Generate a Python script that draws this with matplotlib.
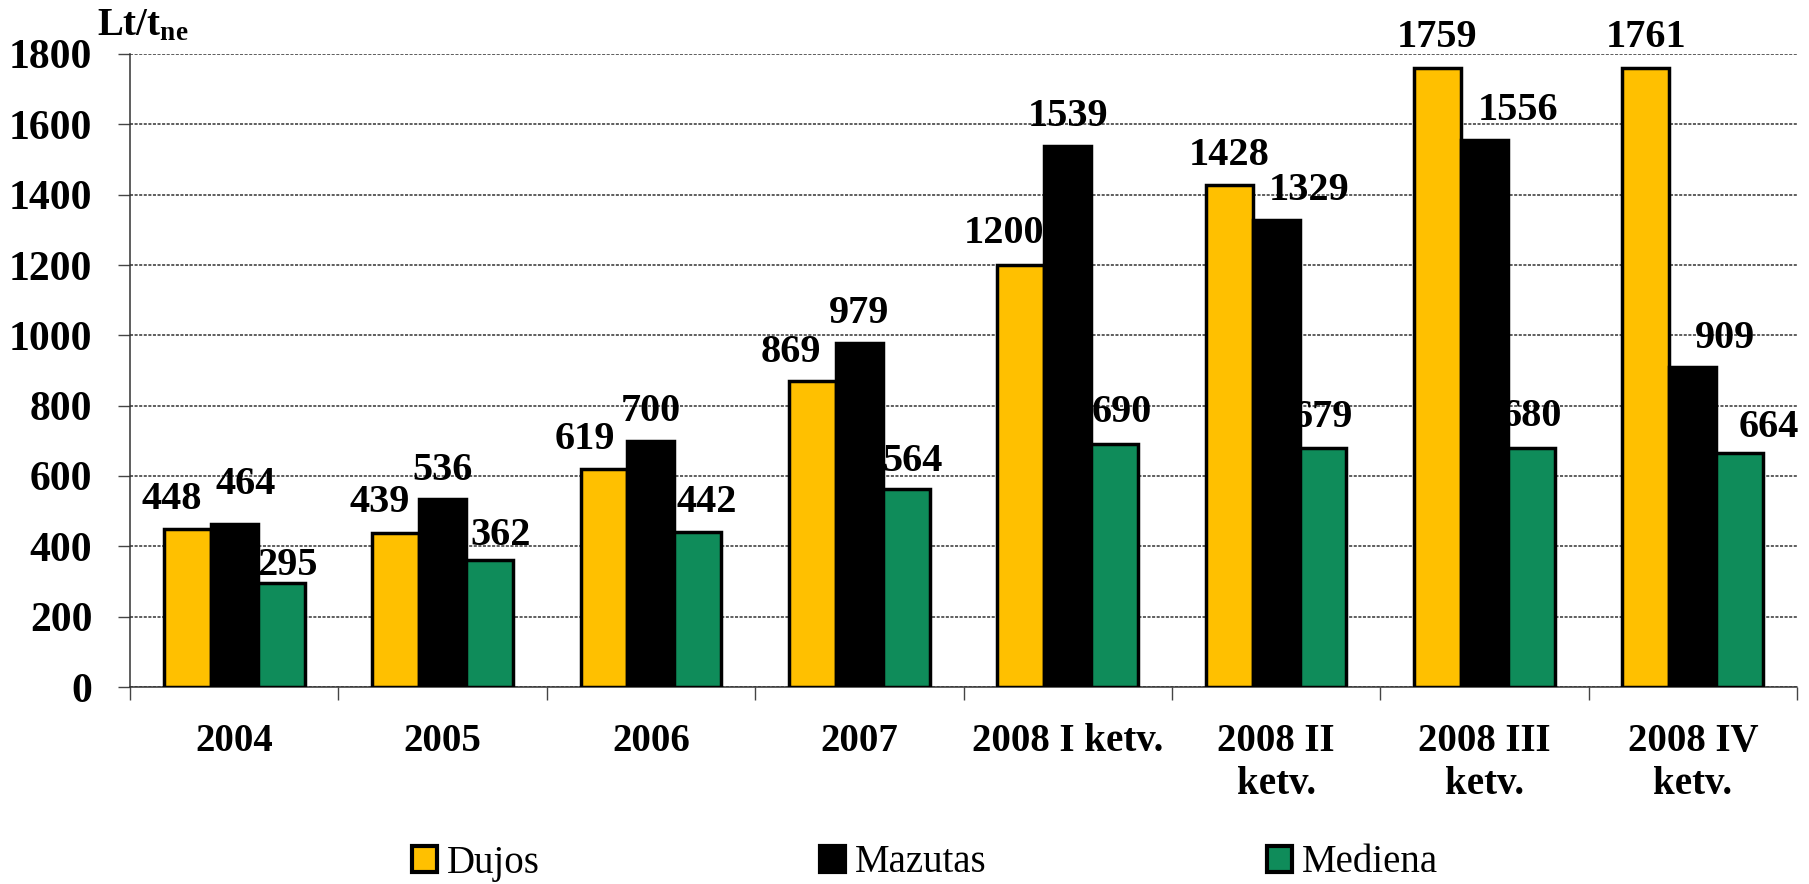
import numpy as np
import matplotlib
matplotlib.use("Agg")
import matplotlib.pyplot as plt

plt.rcParams['font.family'] = ['Liberation Serif', 'DejaVu Serif']
plt.rcParams['mathtext.fontset'] = 'custom'
plt.rcParams['mathtext.rm'] = 'Liberation Serif:bold'
plt.rcParams['mathtext.it'] = 'Liberation Serif:bold'
plt.rcParams['mathtext.bf'] = 'Liberation Serif:bold'

# duomenys
kategorijos = ["2004", "2005", "2006", "2007", "2008 I ketv.",
               "2008 II\nketv.", "2008 III\nketv.", "2008 IV\nketv."]
dujos = [448, 439, 619, 869, 1200, 1428, 1759, 1761]
mazutas = [464, 536, 700, 979, 1539, 1329, 1556, 909]
mediena = [295, 362, 442, 564, 690, 679, 680, 664]
serijos = ["Dujos", "Mazutas", "Mediena"]
y_ticks = [0, 200, 400, 600, 800, 1000, 1200, 1400, 1600, 1800]

# etikečių poslinkiai (px) - kaip originale
dx_px = [[-16, -16, -19, -22, -17, 0, 0, 0],
         [11, 0, 0, 0, 0, 33, 34, 32],
         [6, 11, 9, 6, 7, 0, 0, 29]]
dy_px = [[20, 21, 20, 19, 22, 20, 21, 21],
         [30, 19, 20, 20, 20, 20, 20, 19],
         [8, 15, 20, 18, 22, 21, 22, 16]]

spalvos = ['#FFC000', '#000000', '#0F8C5A']
pt = 0.72  # px -> pt prie 100 dpi

fig = plt.figure(figsize=(18.09, 8.84), dpi=100)
ax = fig.add_axes([130/1809, 1-687/884, (1797-130)/1809, (687-54)/884])

x = np.arange(len(kategorijos))
w = 0.225
for i, (vals, c, name) in enumerate(zip([dujos, mazutas, mediena], spalvos, serijos)):
    pos = x + (i-1)*w
    ax.bar(pos, vals, w, color=c, edgecolor='black', linewidth=2.5, label=name, zorder=3)
    for j, v in enumerate(vals):
        ax.annotate(str(v), (pos[j], v), xytext=(dx_px[i][j]*pt, dy_px[i][j]*pt),
                    textcoords='offset points', ha='center', va='baseline',
                    fontsize=29, fontweight='bold', zorder=2, annotation_clip=False)

ax.set_xlim(-0.5, len(kategorijos)-0.5)
ax.set_ylim(0, 1800)
ax.set_yticks(y_ticks)
ax.set_yticklabels([str(t) for t in y_ticks], fontsize=30, fontweight='bold')
ax.set_xticks(x)
ax.set_xticklabels(kategorijos, fontsize=28, fontweight='bold')
ax.set_xticks(np.arange(-0.5, len(kategorijos)), minor=True)
ax.tick_params(axis='x', which='major', length=0, pad=26)
ax.tick_params(axis='x', which='minor', length=9, width=1, color='#444444', direction='out')
ax.tick_params(axis='y', length=9, width=1, color='#444444', pad=18)

ax.grid(axis='y', color='#333333', linestyle=(0, (2, 1)), linewidth=1.1)
ax.set_axisbelow(True)
for s in ['top', 'right']:
    ax.spines[s].set_visible(False)
for s in ['left', 'bottom']:
    ax.spines[s].set_color('#333333')
    ax.spines[s].set_linewidth(1.1)
    ax.spines[s].set_linestyle((0, (2, 1)))

fig.text(97/1809, 1-35/884, r'$\mathrm{Lt/t_{ne}}$', fontsize=28, va='baseline', ha='left')

leg = fig.legend(loc='center', bbox_to_anchor=(925/1809, 1-863/884), ncol=3,
                 frameon=False, fontsize=28, handlelength=0.64, handleheight=0.64,
                 handletextpad=0.26, columnspacing=7.2)
for h in leg.legend_handles:
    h.set_linewidth(3)

fig.savefig("out.png", dpi=100)
